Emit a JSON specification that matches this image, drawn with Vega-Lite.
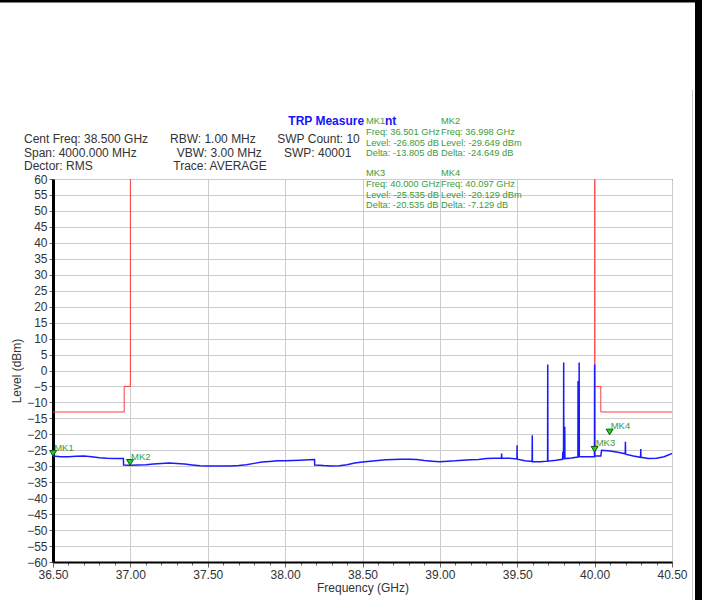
{
  "$schema": "https://vega.github.io/schema/vega-lite/v6.json",
  "width": 619,
  "height": 383,
  "autosize": {"type": "none"},
  "padding": {"left": 53, "top": 179, "right": 30, "bottom": 38},
  "background": "white",
  "config": {"font": "Liberation Sans", "view": {"stroke": "#000", "strokeWidth": 1}},
  "datasets": {
    "limit": [
      {"seg": "L", "i": 1, "f": 36.5, "level": -13},
      {"seg": "L", "i": 2, "f": 36.96, "level": -13},
      {"seg": "L", "i": 3, "f": 36.96, "level": -5},
      {"seg": "L", "i": 4, "f": 37.0, "level": -5},
      {"seg": "L", "i": 5, "f": 37.0, "level": 60},
      {"seg": "R", "i": 6, "f": 40.0, "level": 60},
      {"seg": "R", "i": 7, "f": 40.0, "level": -5},
      {"seg": "R", "i": 8, "f": 40.04, "level": -5},
      {"seg": "R", "i": 9, "f": 40.04, "level": -13},
      {"seg": "R", "i": 10, "f": 40.5, "level": -13}
    ],
    "trace": [
      {"i": 1, "f": 36.5, "level": -26.8},
      {"i": 2, "f": 36.55, "level": -27.0},
      {"i": 3, "f": 36.6, "level": -27.0},
      {"i": 4, "f": 36.65, "level": -26.9},
      {"i": 5, "f": 36.7, "level": -26.8},
      {"i": 6, "f": 36.75, "level": -27.0},
      {"i": 7, "f": 36.8, "level": -27.3},
      {"i": 8, "f": 36.85, "level": -27.5},
      {"i": 9, "f": 36.9, "level": -27.6},
      {"i": 10, "f": 36.955, "level": -27.6},
      {"i": 11, "f": 36.956, "level": -29.6},
      {"i": 12, "f": 37.0, "level": -29.65},
      {"i": 13, "f": 37.05, "level": -29.6},
      {"i": 14, "f": 37.1, "level": -29.5},
      {"i": 15, "f": 37.15, "level": -29.3},
      {"i": 16, "f": 37.2, "level": -29.1},
      {"i": 17, "f": 37.25, "level": -29.0},
      {"i": 18, "f": 37.3, "level": -29.1},
      {"i": 19, "f": 37.35, "level": -29.3},
      {"i": 20, "f": 37.4, "level": -29.6},
      {"i": 21, "f": 37.45, "level": -29.85},
      {"i": 22, "f": 37.5, "level": -29.9},
      {"i": 23, "f": 37.55, "level": -29.9},
      {"i": 24, "f": 37.6, "level": -29.9},
      {"i": 25, "f": 37.65, "level": -29.9},
      {"i": 26, "f": 37.7, "level": -29.8},
      {"i": 27, "f": 37.75, "level": -29.5},
      {"i": 28, "f": 37.8, "level": -29.1},
      {"i": 29, "f": 37.85, "level": -28.7},
      {"i": 30, "f": 37.9, "level": -28.5},
      {"i": 31, "f": 37.95, "level": -28.3},
      {"i": 32, "f": 38.0, "level": -28.3},
      {"i": 33, "f": 38.05, "level": -28.2},
      {"i": 34, "f": 38.1, "level": -28.1},
      {"i": 35, "f": 38.15, "level": -28.0},
      {"i": 36, "f": 38.19, "level": -27.9},
      {"i": 37, "f": 38.191, "level": -29.6},
      {"i": 38, "f": 38.25, "level": -29.8},
      {"i": 39, "f": 38.3, "level": -29.9},
      {"i": 40, "f": 38.35, "level": -29.85},
      {"i": 41, "f": 38.4, "level": -29.5},
      {"i": 42, "f": 38.45, "level": -29.0},
      {"i": 43, "f": 38.5, "level": -28.7},
      {"i": 44, "f": 38.55, "level": -28.4},
      {"i": 45, "f": 38.6, "level": -28.2},
      {"i": 46, "f": 38.65, "level": -28.0},
      {"i": 47, "f": 38.7, "level": -27.9},
      {"i": 48, "f": 38.75, "level": -27.8},
      {"i": 49, "f": 38.8, "level": -27.8},
      {"i": 50, "f": 38.85, "level": -27.9},
      {"i": 51, "f": 38.9, "level": -28.2},
      {"i": 52, "f": 38.95, "level": -28.4},
      {"i": 53, "f": 39.0, "level": -28.6},
      {"i": 54, "f": 39.05, "level": -28.4},
      {"i": 55, "f": 39.1, "level": -28.3},
      {"i": 56, "f": 39.15, "level": -28.1},
      {"i": 57, "f": 39.2, "level": -28.0},
      {"i": 58, "f": 39.25, "level": -27.9},
      {"i": 59, "f": 39.3, "level": -27.6},
      {"i": 60, "f": 39.35, "level": -27.5},
      {"i": 61, "f": 39.398, "level": -27.4},
      {"i": 62, "f": 39.399, "level": -26.0},
      {"i": 63, "f": 39.4, "level": -27.4},
      {"i": 64, "f": 39.45, "level": -27.5},
      {"i": 65, "f": 39.498, "level": -27.7},
      {"i": 66, "f": 39.499, "level": -23.4},
      {"i": 67, "f": 39.5, "level": -27.8},
      {"i": 68, "f": 39.55, "level": -28.3},
      {"i": 69, "f": 39.596, "level": -28.5},
      {"i": 70, "f": 39.597, "level": -20.3},
      {"i": 71, "f": 39.598, "level": -28.6},
      {"i": 72, "f": 39.65, "level": -28.6},
      {"i": 73, "f": 39.696, "level": -28.4},
      {"i": 74, "f": 39.697, "level": 1.9},
      {"i": 75, "f": 39.698, "level": -28.4},
      {"i": 76, "f": 39.75, "level": -28.1},
      {"i": 77, "f": 39.793, "level": -27.8},
      {"i": 78, "f": 39.794, "level": -25.5},
      {"i": 79, "f": 39.795, "level": -27.7},
      {"i": 80, "f": 39.799, "level": -27.6},
      {"i": 81, "f": 39.8, "level": 2.5},
      {"i": 82, "f": 39.801, "level": -27.6},
      {"i": 83, "f": 39.806, "level": -27.6},
      {"i": 84, "f": 39.807, "level": -17.6},
      {"i": 85, "f": 39.808, "level": -27.6},
      {"i": 86, "f": 39.85, "level": -27.4},
      {"i": 87, "f": 39.892, "level": -27.1},
      {"i": 88, "f": 39.893, "level": -3.3},
      {"i": 89, "f": 39.894, "level": -27.1},
      {"i": 90, "f": 39.899, "level": -27.0},
      {"i": 91, "f": 39.9, "level": 2.5},
      {"i": 92, "f": 39.901, "level": -27.0},
      {"i": 93, "f": 39.95, "level": -27.0},
      {"i": 94, "f": 39.999, "level": -27.0},
      {"i": 95, "f": 40.0, "level": 1.9},
      {"i": 96, "f": 40.001, "level": -26.8},
      {"i": 97, "f": 40.04, "level": -26.8},
      {"i": 98, "f": 40.045, "level": -25.0},
      {"i": 99, "f": 40.1, "level": -25.2},
      {"i": 100, "f": 40.15, "level": -25.6},
      {"i": 101, "f": 40.198, "level": -26.1},
      {"i": 102, "f": 40.199, "level": -22.3},
      {"i": 103, "f": 40.2, "level": -26.2},
      {"i": 104, "f": 40.25, "level": -26.8},
      {"i": 105, "f": 40.297, "level": -27.2},
      {"i": 106, "f": 40.298, "level": -24.6},
      {"i": 107, "f": 40.299, "level": -27.2},
      {"i": 108, "f": 40.35, "level": -27.6},
      {"i": 109, "f": 40.4, "level": -27.5},
      {"i": 110, "f": 40.45, "level": -27.0},
      {"i": 111, "f": 40.5, "level": -26.0}
    ],
    "markers": [
      {"mk": "MK1", "f": 36.501, "level": -26.805},
      {"mk": "MK2", "f": 36.998, "level": -29.649},
      {"mk": "MK3", "f": 40.0, "level": -25.535},
      {"mk": "MK4", "f": 40.097, "level": -20.129}
    ],
    "header": [
      {"f": 36.3126, "level": 72.6, "text": "Cent Freq: 38.500 GHz"},
      {"f": 37.256, "level": 72.6, "text": "RBW: 1.00 MHz"},
      {"f": 37.9494, "level": 72.6, "text": "SWP Count: 10"},
      {"f": 36.3126, "level": 68.2, "text": "Span: 4000.000 MHz"},
      {"f": 37.2994, "level": 68.2, "text": "VBW: 3.00 MHz"},
      {"f": 37.9927, "level": 68.2, "text": "SWP: 40001"},
      {"f": 36.3126, "level": 64.2, "text": "Dector: RMS"},
      {"f": 37.2774, "level": 64.2, "text": "Trace: AVERAGE"}
    ],
    "title": [
      {"f": 38.0205, "level": 78.02, "text": "TRP Measure"},
      {"f": 38.6454, "level": 78.02, "text": "nt"}
    ],
    "mkinfo": [
      {"f": 38.5226, "level": 78.02, "text": "MK1"},
      {"f": 38.5226, "level": 74.73, "text": "Freq: 36.501 GHz"},
      {"f": 38.5226, "level": 71.28, "text": "Level: -26.805 dB"},
      {"f": 38.5226, "level": 67.99, "text": "Delta: -13.805 dB"},
      {"f": 39.0073, "level": 78.02, "text": "MK2"},
      {"f": 39.0073, "level": 74.73, "text": "Freq: 36.998 GHz"},
      {"f": 39.0073, "level": 71.28, "text": "Level: -29.649 dBm"},
      {"f": 39.0073, "level": 67.99, "text": "Delta: -24.649 dB"},
      {"f": 38.5226, "level": 61.88, "text": "MK3"},
      {"f": 38.5226, "level": 58.43, "text": "Freq: 40.000 GHz"},
      {"f": 38.5226, "level": 54.99, "text": "Level: -25.535 dB"},
      {"f": 38.5226, "level": 51.7, "text": "Delta: -20.535 dB"},
      {"f": 39.0073, "level": 61.88, "text": "MK4"},
      {"f": 39.0073, "level": 58.43, "text": "Freq: 40.097 GHz"},
      {"f": 39.0073, "level": 54.99, "text": "Level: -20.129 dBm"},
      {"f": 39.0073, "level": 51.7, "text": "Delta: -7.129 dB"}
    ],
    "frametop": [{"f": 36.1, "f2": 40.649, "level": 115.77, "level2": 115.77}],
    "frameright": [{"f": 40.6713, "f2": 40.6713, "level": 118, "level2": -74}],
    "frameline": [{"f": 40.6325, "f2": 40.6325, "level": 87.9, "level2": -74}]
  },
  "encoding": {
    "x": {
      "field": "f",
      "type": "quantitative",
      "scale": {"domain": [36.5, 40.5], "nice": false, "zero": false},
      "axis": {
        "title": "Frequency (GHz)",
        "values": [36.5, 36.6, 36.7, 36.8, 36.9, 37, 37.1, 37.2, 37.3, 37.4, 37.5, 37.6, 37.7, 37.8, 37.9, 38, 38.1, 38.2, 38.3, 38.4, 38.5, 38.6, 38.7, 38.8, 38.9, 39, 39.1, 39.2, 39.3, 39.4, 39.5, 39.6, 39.7, 39.8, 39.9, 40, 40.1, 40.2, 40.3, 40.4, 40.5],
        "labelExpr": "abs(datum.value*2 - round(datum.value*2)) < 0.001 ? format(datum.value, '.2f') : ''",
        "grid": true,
        "gridColor": "#cccccc",
        "gridOpacity": {"condition": {"test": "abs(datum.value*2 - round(datum.value*2)) < 0.001", "value": 1}, "value": 0},
        "tickSize": {"condition": {"test": "abs(datum.value*2 - round(datum.value*2)) < 0.001", "value": 5}, "value": 3},
        "tickColor": "#666666",
        "domainColor": "#000000",
        "domainWidth": 2,
        "labelFontSize": 12,
        "labelColor": "#333333",
        "labelPadding": 2,
        "labelOverlap": false,
        "labelFlush": false,
        "titleFontSize": 12,
        "titleFontWeight": "normal",
        "titleColor": "#333333",
        "titlePadding": 2
      }
    },
    "y": {
      "field": "level",
      "type": "quantitative",
      "scale": {"domain": [-60, 60], "nice": false, "zero": false},
      "axis": {
        "title": "Level (dBm)",
        "values": [-60, -55, -50, -45, -40, -35, -30, -25, -20, -15, -10, -5, 0, 5, 10, 15, 20, 25, 30, 35, 40, 45, 50, 55, 60],
        "grid": true,
        "gridColor": "#cccccc",
        "tickSize": 4,
        "tickColor": "#666666",
        "domainColor": "#000000",
        "domainWidth": 3,
        "labelFontSize": 12,
        "labelColor": "#333333",
        "labelPadding": 2,
        "labelOverlap": false,
        "labelFlush": false,
        "titleFontSize": 12,
        "titleFontWeight": "normal",
        "titleColor": "#333333",
        "titlePadding": 3
      }
    }
  },
  "layer": [
    {
      "data": {"name": "limit"},
      "mark": {"type": "line", "color": "#ff3b3b", "strokeWidth": 1, "clip": true},
      "encoding": {"detail": {"field": "seg"}, "order": {"field": "i", "type": "quantitative"}}
    },
    {
      "data": {"name": "trace"},
      "mark": {"type": "line", "color": "#1a1aff", "strokeWidth": 1.5, "clip": true},
      "encoding": {"order": {"field": "i", "type": "quantitative"}}
    },
    {
      "data": {"name": "markers"},
      "mark": {"type": "point", "shape": "M-1,-1.6L1,-1.6L0,0Z", "size": 49, "filled": true, "color": "#1fd21f", "stroke": "#0a5a0a", "strokeWidth": 1, "opacity": 1}
    },
    {
      "data": {"name": "markers"},
      "mark": {"type": "text", "align": "left", "baseline": "middle", "dx": 1, "dy": -8.5, "fontSize": 9.5, "color": "#3b9b3b"},
      "encoding": {"text": {"field": "mk"}}
    },
    {
      "data": {"name": "header"},
      "mark": {"type": "text", "align": "left", "baseline": "middle", "fontSize": 12, "color": "#333333"},
      "encoding": {"text": {"field": "text"}}
    },
    {
      "data": {"name": "title"},
      "mark": {"type": "text", "align": "left", "baseline": "middle", "fontSize": 12, "fontWeight": "bold", "color": "#1414ff"},
      "encoding": {"text": {"field": "text"}}
    },
    {
      "data": {"name": "mkinfo"},
      "mark": {"type": "text", "align": "left", "baseline": "middle", "fontSize": 9.3, "color": "#3b9b3b"},
      "encoding": {"text": {"field": "text"}}
    },
    {
      "data": {"name": "frametop"},
      "mark": {"type": "rule", "color": "#000000", "strokeWidth": 3},
      "encoding": {"x2": {"field": "f2"}, "y2": {"field": "level2"}}
    },
    {
      "data": {"name": "frameright"},
      "mark": {"type": "rule", "color": "#000000", "strokeWidth": 7},
      "encoding": {"x2": {"field": "f2"}, "y2": {"field": "level2"}}
    },
    {
      "data": {"name": "frameline"},
      "mark": {"type": "rule", "color": "#c8c8c8", "strokeWidth": 1},
      "encoding": {"x2": {"field": "f2"}, "y2": {"field": "level2"}}
    }
  ]
}
